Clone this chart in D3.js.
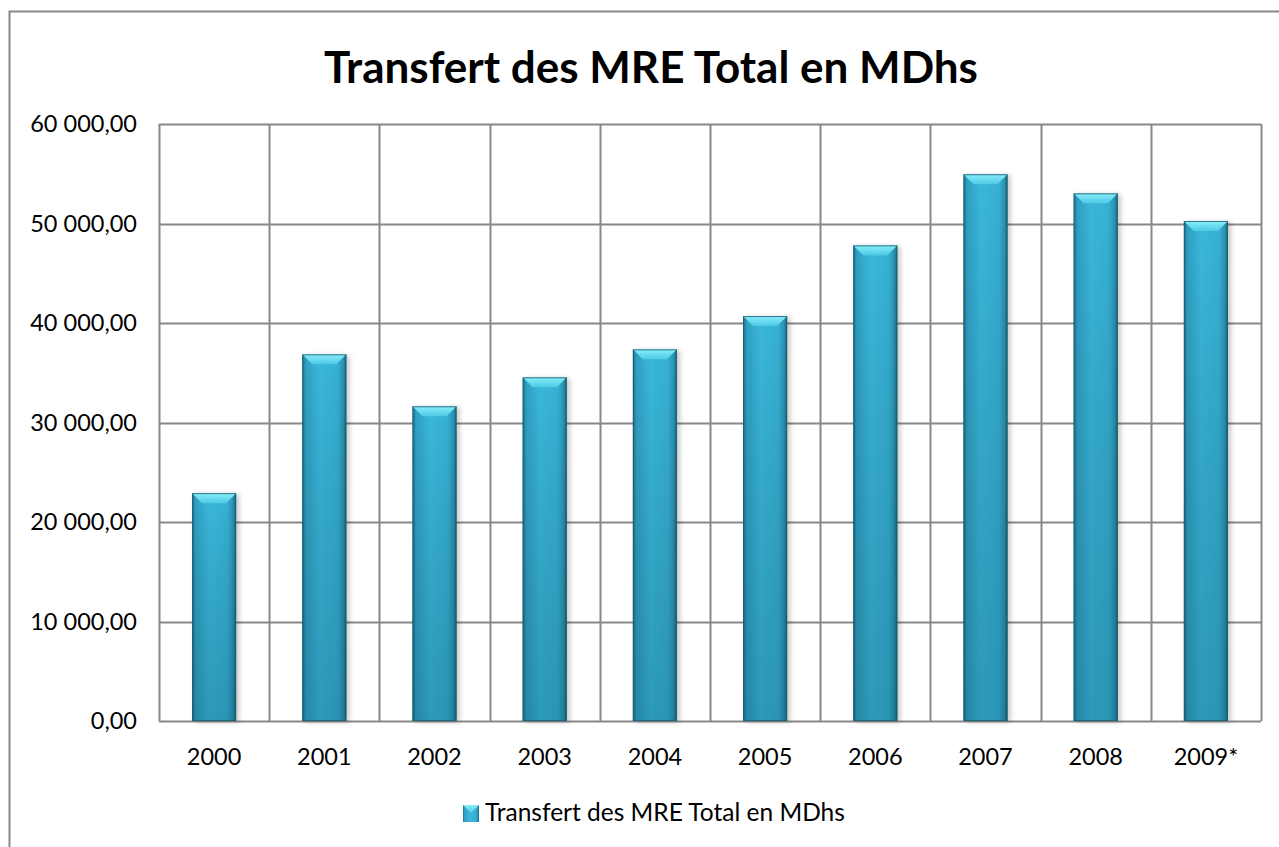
<!DOCTYPE html>
<html>
<head>
<meta charset="utf-8">
<script src="https://cdn.jsdelivr.net/npm/d3@7"></script>
<style>
  body { margin: 0; background: #fff; }
  svg { display: block; }
  text { font-family: Lato, "Open Sans", sans-serif; fill: #000; }
</style>
</head>
<body>
<div id="chart"></div>
<script>
var years = ["2000", "2001", "2002", "2003", "2004", "2005", "2006", "2007", "2008", "2009*"];
var transferts = [22900, 36850, 31630, 34540, 37350, 40700, 47800, 54950, 53030, 50250];
var yTicks = [0, 10000, 20000, 30000, 40000, 50000, 60000];
var titre = "Transfert des MRE Total en MDhs";
var serieNom = "Transfert des MRE Total en MDhs";

var width = 1279, height = 847;
var margin = {top: 124, right: 18, bottom: 126, left: 159};

var fr = d3.formatLocale({decimal: ",", thousands: "\u00a0", grouping: [3], currency: ["", ""]});
var fmt = fr.format(",.2f");

var svg = d3.select("#chart").append("svg").attr("width", width).attr("height", height);

var defs = svg.append("defs");
var hGrad = defs.append("linearGradient").attr("id", "barH").attr("x1", 0).attr("x2", 1).attr("y1", 0).attr("y2", 0);
hGrad.append("stop").attr("offset", "0%").attr("stop-color", "#1d6d86");
hGrad.append("stop").attr("offset", "8%").attr("stop-color", "#2f9fc2");
hGrad.append("stop").attr("offset", "40%").attr("stop-color", "#3ab8dc");
hGrad.append("stop").attr("offset", "80%").attr("stop-color", "#36b0d4");
hGrad.append("stop").attr("offset", "93%").attr("stop-color", "#2a93b3");
hGrad.append("stop").attr("offset", "100%").attr("stop-color", "#1b5f74");

var vGrad = defs.append("linearGradient").attr("id", "barV").attr("x1", 0).attr("x2", 0).attr("y1", 0).attr("y2", 1);
vGrad.append("stop").attr("offset", "0%").attr("stop-color", "#000").attr("stop-opacity", 0);
vGrad.append("stop").attr("offset", "100%").attr("stop-color", "#003040").attr("stop-opacity", 0.22);

var capGrad = defs.append("linearGradient").attr("id", "cap").attr("x1", 0).attr("x2", 0).attr("y1", 0).attr("y2", 1);
capGrad.append("stop").attr("offset", "0%").attr("stop-color", "#8aeefa");
capGrad.append("stop").attr("offset", "100%").attr("stop-color", "#4cc9e6");

var shadow = defs.append("filter").attr("id", "shadow").attr("x", "-20%").attr("y", "-5%").attr("width", "150%").attr("height", "115%");
shadow.append("feDropShadow").attr("dx", 3).attr("dy", 1).attr("stdDeviation", 2.5).attr("flood-color", "#000").attr("flood-opacity", 0.22);

// outer frame
svg.append("rect")
  .attr("x", 9.5).attr("y", 11.5)
  .attr("width", 1300).attr("height", 900)
  .attr("fill", "none").attr("stroke", "#888").attr("stroke-width", 2);

var x = d3.scaleBand().domain(years).range([margin.left, width - margin.right]).paddingInner(0).paddingOuter(0);
var y = d3.scaleLinear().domain([0, 60000]).range([height - margin.bottom, margin.top]);

var innerBar = 0.6;

// grid
var grid = svg.append("g");
grid.selectAll(".hline").data(yTicks).enter().append("line")
  .attr("x1", x.range()[0]).attr("x2", x.range()[1])
  .attr("y1", function(d) { return Math.round(y(d)) + 0.5; })
  .attr("y2", function(d) { return Math.round(y(d)) + 0.5; })
  .attr("stroke", "#888").attr("stroke-width", 2);
var vlines = years.map(function(d) { return x(d); }).concat([x.range()[1]]);
grid.selectAll(".vline").data(vlines).enter().append("line")
  .attr("x1", function(d) { return Math.round(d) + 0.5; })
  .attr("x2", function(d) { return Math.round(d) + 0.5; })
  .attr("y1", y(60000)).attr("y2", y(0))
  .attr("stroke", "#888").attr("stroke-width", 2);

// bars
var bw = x.bandwidth() * (1 - innerBar);
var bars = svg.selectAll(".bar").data(years).enter().append("g").attr("class", "bar");
function bx(d) { return x(d) + (x.bandwidth() - bw) / 2; }
function by(d, i) { return y(transferts[i]); }
function bh(d, i) { return y(0) - y(transferts[i]); }

bars.append("rect")
  .attr("x", bx).attr("y", by).attr("width", bw).attr("height", bh)
  .attr("fill", "url(#barH)").attr("filter", "url(#shadow)");
bars.append("rect")
  .attr("x", bx).attr("y", by).attr("width", bw).attr("height", bh)
  .attr("fill", "url(#barV)");
var bev = 10;
bars.append("path")
  .attr("d", function(d, i) {
    var x0 = bx(d), y0 = by(d, i);
    return "M" + x0 + "," + y0 + "H" + (x0 + bw) + "L" + (x0 + bw - bev) + "," + (y0 + bev) + "H" + (x0 + bev) + "Z";
  })
  .attr("fill", "url(#cap)");
bars.append("rect")
  .attr("x", function(d) { return bx(d) + 0.5; }).attr("y", function(d, i) { return by(d, i) + 0.5; })
  .attr("width", bw - 1).attr("height", function(d, i) { return bh(d, i) - 1; })
  .attr("fill", "none").attr("stroke", "#1a5e72").attr("stroke-width", 1).attr("stroke-opacity", 0.8);

// axes labels
svg.selectAll(".ylab").data(yTicks).enter().append("text")
  .attr("x", 137).attr("y", function(d) { return y(d); })
  .attr("dy", "0.36em").attr("text-anchor", "end")
  .style("font-size", "23.5px")
  .text(function(d) { return fmt(d); });

svg.selectAll(".xlab").data(years).enter().append("text")
  .attr("x", function(d) { return x(d) + x.bandwidth() / 2; })
  .attr("y", 765).attr("text-anchor", "middle")
  .style("font-size", "23.5px")
  .text(function(d) { return d; });

// title
svg.append("text")
  .attr("x", 651).attr("y", 83).attr("text-anchor", "middle")
  .style("font-size", "44px").style("font-weight", "bold")
  .text(titre);

// legend
var leg = svg.append("g").attr("transform", "translate(463,805)");
leg.append("rect").attr("width", 16).attr("height", 17).attr("fill", "url(#barH)");
leg.append("path").attr("d", "M0,0H16L8,8Z").attr("fill", "url(#cap)");
leg.append("text").attr("x", 22).attr("y", 16).style("font-size", "24.5px").text(serieNom);
</script>
</body>
</html>
